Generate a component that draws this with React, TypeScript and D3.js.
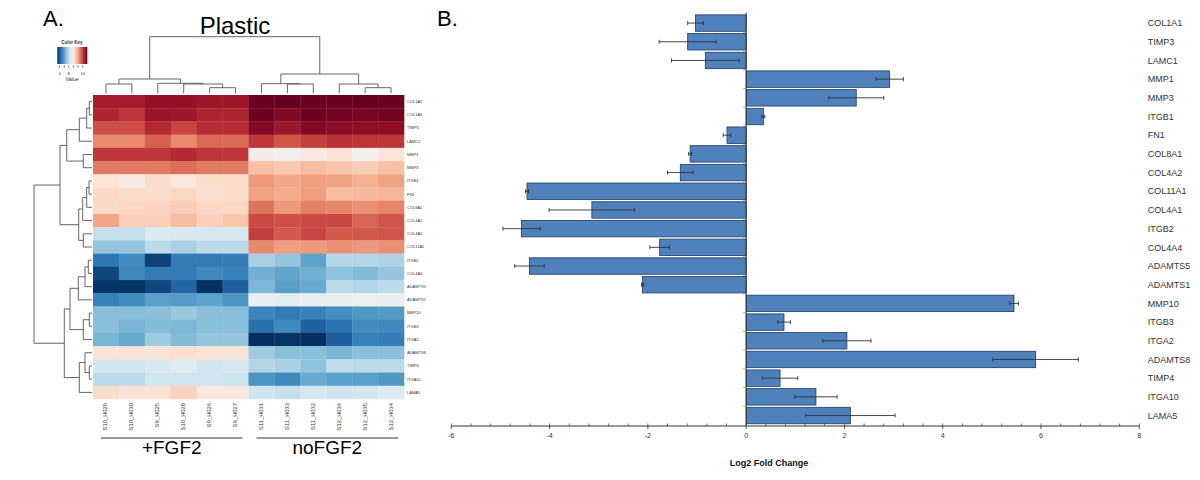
import React from "react";
import * as d3 from "d3";

// ---- panel A: heatmap ----
const heatGenes = ["COL1A2", "COL1A1", "TIMP3", "LAMC1", "MMP1", "MMP3", "ITGB1", "FN1", "COL8A1", "COL4A2", "COL4A1", "COL11A1", "ITGB2", "COL4A4", "ADAMTS5", "ADAMTS1", "MMP10", "ITGB3", "ITGA2", "ADAMTS8", "TIMP4", "ITGA10", "LAMA5"];
const samples = ["S10_H029", "S10_H030", "S9_H025", "S10_H028", "S9_H026", "S9_H027", "S11_H031", "S11_H033", "S11_H032", "S12_H036", "S12_H035", "S12_H034"];

// expression values, one row per gene, columns in sample order
const heatValues = [
  [14.8, 14.8, 15.2, 15.2, 15.0, 15.0, 15.9, 16.0, 15.9, 15.9, 16.0, 15.9],
  [14.6, 14.2, 15.1, 15.0, 14.6, 14.6, 15.9, 15.5, 15.9, 15.8, 15.7, 15.8],
  [13.7, 13.7, 14.5, 13.9, 14.4, 14.4, 15.5, 15.0, 15.5, 15.4, 15.3, 15.3],
  [12.6, 12.6, 13.4, 12.6, 13.2, 13.2, 14.2, 13.6, 14.0, 14.3, 14.2, 14.2],
  [14.2, 14.2, 14.2, 14.5, 14.2, 14.2, 9.9, 9.6, 10.1, 10.4, 9.6, 10.3],
  [12.9, 12.9, 12.9, 13.1, 12.9, 12.9, 11.4, 11.2, 11.5, 11.3, 11.1, 11.4],
  [10.3, 10.1, 10.6, 10.2, 10.6, 10.6, 12.3, 12.0, 12.2, 12.1, 11.8, 12.1],
  [10.7, 10.6, 10.6, 10.8, 10.5, 10.6, 12.1, 11.9, 12.2, 11.5, 11.6, 11.7],
  [10.7, 10.8, 10.9, 11.1, 10.8, 10.8, 13.0, 12.3, 12.8, 12.7, 12.5, 12.7],
  [12.0, 11.0, 11.0, 11.5, 11.0, 11.3, 13.8, 13.7, 13.8, 13.9, 13.3, 13.6],
  [8.0, 8.0, 8.6, 8.5, 8.5, 8.5, 14.0, 13.5, 13.9, 13.5, 13.5, 13.6],
  [7.0, 7.0, 7.8, 7.4, 7.8, 7.8, 12.6, 12.2, 12.3, 12.5, 12.3, 12.5],
  [4.8, 5.4, 3.4, 4.9, 4.9, 5.0, 7.4, 7.0, 6.0, 7.6, 7.6, 7.5],
  [3.5, 5.3, 4.9, 4.9, 5.3, 5.1, 6.4, 6.1, 6.4, 6.9, 6.7, 7.0],
  [3.1, 3.1, 3.5, 4.3, 3.0, 4.2, 6.6, 5.9, 6.2, 7.8, 7.6, 7.8],
  [5.1, 5.4, 5.9, 5.8, 6.0, 5.6, 9.1, 8.8, 9.0, 9.0, 9.3, 9.2],
  [6.8, 6.8, 6.8, 7.1, 6.8, 6.8, 5.2, 4.9, 5.1, 5.4, 5.7, 5.8],
  [6.8, 6.5, 6.7, 6.6, 6.8, 6.8, 4.6, 5.3, 4.2, 4.7, 5.4, 5.3],
  [6.5, 6.2, 7.2, 6.7, 7.0, 7.0, 3.0, 3.1, 3.0, 4.1, 5.1, 5.0],
  [10.3, 10.4, 10.4, 10.5, 10.4, 10.4, 7.2, 6.8, 6.8, 6.5, 6.8, 6.8],
  [8.4, 8.4, 8.5, 8.7, 8.4, 8.5, 7.6, 7.4, 6.9, 7.9, 7.8, 7.8],
  [7.8, 7.8, 8.3, 8.3, 8.3, 8.2, 5.6, 5.3, 6.2, 5.9, 5.9, 5.7],
  [10.6, 10.4, 10.4, 10.9, 10.2, 10.2, 8.3, 8.0, 8.5, 8.3, 8.4, 8.6],
];

// hclust-style merges: [left, right, height]; negative = leaf index (1-based)
const colMerges = [
  [-1, -2, 9.3], [-5, -6, 5.6], [-4, 2, 9.3], [-3, 3, 10.0], [1, 4, 14.3],
  [-8, -9, 9.3], [-7, 6, 9.6], [-11, -12, 5.6], [-10, 8, 9.3], [7, 9, 19.3], [5, 10, 56.6],
];
const rowMerges = [
  [-1, -2, 2.7], [1, -3, 5.3], [2, -4, 12.7], [-5, -6, 8.7], [3, 4, 25.3],
  [-7, -8, 3], [6, -9, 5.3], [7, -10, 9.3], [-11, -12, 8.7], [8, 9, 13.3], [5, 10, 32],
  [-13, -14, 3.7], [12, -15, 7], [13, -16, 13.7], [-17, -18, 2.7], [15, -19, 8.7], [14, 16, 22],
  [-21, -22, 2.7], [-20, 18, 7], [19, -23, 12.7], [17, 20, 27.7], [11, 21, 58],
];

const groups = [
  { label: "+FGF2", from: 0, to: 5 },
  { label: "noFGF2", from: 6, to: 11 },
];
const keyTicks = [4, 6, 8, 10, 12, 14];
const keyLabels = [4, 8, 14];

// ---- panel B: bar chart ----
const barGenes = ["COL1A1", "TIMP3", "LAMC1", "MMP1", "MMP3", "ITGB1", "FN1", "COL8A1", "COL4A2", "COL11A1", "COL4A1", "ITGB2", "COL4A4", "ADAMTS5", "ADAMTS1", "MMP10", "ITGB3", "ITGA2", "ADAMTS8", "TIMP4", "ITGA10", "LAMA5"];
const foldChange = [-1.03, -1.19, -0.83, 2.92, 2.24, 0.35, -0.39, -1.14, -1.34, -4.46, -3.14, -4.57, -1.76, -4.41, -2.11, 5.45, 0.77, 2.05, 5.89, 0.69, 1.42, 2.12];
const foldErr = [0.16, 0.58, 0.69, 0.28, 0.56, 0.03, 0.075, 0.03, 0.26, 0.03, 0.87, 0.38, 0.2, 0.3, 0.02, 0.09, 0.13, 0.49, 0.87, 0.36, 0.43, 0.91];
const xMajor = [-6, -4, -2, 0, 2, 4, 6, 8];

const FONT = "'Liberation Sans', Arial, sans-serif";

type Seg = [number, number, number, number];

// walk the merge list, return the elbow segments in (pos, height) space
function dendroSegments(merges: number[][], leafPos: (i: number) => number) {
  const pos: number[] = [];
  const hts: number[] = [];
  const segs: { p1: number; p2: number; h1: number; h2: number }[] = [];
  const get = (id: number) => (id < 0 ? { p: leafPos(-id - 1), h: 0 } : { p: pos[id - 1], h: hts[id - 1] });
  merges.forEach(([a, b, h]) => {
    const A = get(a), B = get(b);
    segs.push({ p1: A.p, p2: B.p, h1: h, h2: h }); // cross bar
    segs.push({ p1: A.p, p2: A.p, h1: A.h, h2: h });
    segs.push({ p1: B.p, p2: B.p, h1: B.h, h2: h });
    pos.push((A.p + B.p) / 2);
    hts.push(h);
  });
  return segs;
}

export default function App() {
  // heatmap scales
  const hx = d3.scaleBand().domain(samples).range([93, 404]);
  const hy = d3.scaleBand().domain(heatGenes).range([95, 399]);
  const color = d3.scaleSequential((t: number) => d3.interpolateRdBu(1 - t)).domain([3, 16]);

  const colH = d3.scaleLinear().domain([0, 56.6]).range([93.3, 36.7]);
  const rowH = d3.scaleLinear().domain([0, 58]).range([92, 34]);

  const colSegs = dendroSegments(colMerges, (i) => hx(samples[i])! + hx.bandwidth() / 2);
  const rowSegs = dendroSegments(rowMerges, (i) => hy(heatGenes[i])! + hy.bandwidth() / 2);

  const keyX = d3.scaleLinear().domain([3, 16]).range([57.3, 87.3]);
  const keyStops = d3.range(0, 1.0001, 0.1);

  // bar chart scales
  const bx = d3.scaleLinear().domain([-6, 8]).range([451.3, 1139.3]);
  const by = d3.scaleBand().domain(barGenes).range([12.6, 426]).padding(0.12);
  const minor = d3.range(-6, 8.001, 0.4);
  const axisY = 426;

  return (
    <svg width={1200} height={480} style={{ position: "absolute", left: 0, top: 0, background: "#fff" }} fontFamily={FONT}>
      <defs>
        <linearGradient id="keygrad" x1="0" x2="1" y1="0" y2="0">
          {keyStops.map((t) => (
            <stop key={t} offset={t} stopColor={color(3 + t * 13)} />
          ))}
        </linearGradient>
      </defs>

      {/* ---------- A ---------- */}
      <text x={43} y={26} fontSize={22}>A.</text>
      <text x={235} y={34} fontSize={24} textAnchor="middle">Plastic</text>

      {/* color key */}
      <text x={72} y={43.5} fontSize={4.5} fontWeight="bold" textAnchor="middle" fill="#333">Color Key</text>
      <rect x={keyX(3)} y={47} width={keyX(16) - keyX(3)} height={17} fill="url(#keygrad)" />
      {keyTicks.map((t) => (
        <line key={t} x1={keyX(t)} x2={keyX(t)} y1={65} y2={68} stroke="#444" strokeWidth={0.6} />
      ))}
      {keyLabels.map((t) => (
        <text key={t} x={keyX(t)} y={75} fontSize={4} textAnchor="middle" fill="#333">{t}</text>
      ))}
      <text x={72} y={81} fontSize={5.5} textAnchor="middle" fill="#333">Value</text>

      {/* heatmap cells */}
      {heatValues.map((row, r) =>
        row.map((v, c) => (
          <rect key={`${r}-${c}`} x={hx(samples[c])} y={hy(heatGenes[r])} width={hx.bandwidth() + 0.3} height={hy.bandwidth() + 0.3} fill={color(v)} />
        ))
      )}

      {/* dendrograms */}
      <g stroke="#555" strokeWidth={0.9} fill="none">
        {colSegs.map((s, i) => (
          <line key={i} x1={s.p1} x2={s.p2} y1={colH(s.h1)} y2={colH(s.h2)} />
        ))}
        {rowSegs.map((s, i) => (
          <line key={i} y1={s.p1} y2={s.p2} x1={rowH(s.h1)} x2={rowH(s.h2)} />
        ))}
      </g>

      {/* row labels */}
      {heatGenes.map((g) => (
        <text key={g} x={407} y={hy(g)! + hy.bandwidth() / 2 + 1.4} fontSize={4} fill="#333">{g}</text>
      ))}
      {/* column labels */}
      {samples.map((s) => {
        const cx = hx(s)! + hx.bandwidth() / 2 + 1.5;
        return (
          <text key={s} transform={`translate(${cx},403) rotate(-90)`} fontSize={5.8} textAnchor="end" fill="#333">{s}</text>
        );
      })}

      {/* group bars */}
      {groups.map((g) => {
        const x1 = hx(samples[g.from])! + 8;
        const x2 = hx(samples[g.to])! + hx.bandwidth() - 6;
        return (
          <g key={g.label}>
            <line x1={x1} x2={x2} y1={438} y2={438} stroke="#333" strokeWidth={1} />
            <text x={(x1 + x2) / 2} y={454} fontSize={19} textAnchor="middle">{g.label}</text>
          </g>
        );
      })}

      {/* ---------- B ---------- */}
      <text x={437} y={26} fontSize={22}>B.</text>

      {/* bars */}
      {barGenes.map((g, i) => {
        const v = foldChange[i];
        const y0 = by(g)!;
        const x0 = Math.min(bx(0), bx(v));
        const w = Math.abs(bx(v) - bx(0));
        const cy = y0 + by.bandwidth() / 2;
        const e1 = bx(v - foldErr[i]);
        const e2 = bx(v + foldErr[i]);
        return (
          <g key={g}>
            <rect x={x0} y={y0} width={w} height={by.bandwidth()} fill="#4f81bd" stroke="#1f3a60" strokeWidth={0.8} />
            <g stroke="#333" strokeWidth={0.9}>
              <line x1={e1} x2={e2} y1={cy} y2={cy} />
              <line x1={e1} x2={e1} y1={cy - 2} y2={cy + 2} />
              <line x1={e2} x2={e2} y1={cy - 2} y2={cy + 2} />
            </g>
            <text x={1147.7} y={cy + 3.2} fontSize={9} fill="#333">{g}</text>
          </g>
        );
      })}

      {/* y axis at zero */}
      <line x1={bx(0)} x2={bx(0)} y1={12.6} y2={axisY} stroke="#333" strokeWidth={1} />
      {barGenes.map((g, i) =>
        i === 0 ? null : (
          <line key={g} x1={bx(0) - 3} x2={bx(0)} y1={by(g)! - (by.step() - by.bandwidth()) / 2} y2={by(g)! - (by.step() - by.bandwidth()) / 2} stroke="#888" strokeWidth={0.8} />
        )
      )}

      {/* x axis */}
      <line x1={bx(-6)} x2={bx(8)} y1={axisY} y2={axisY} stroke="#333" strokeWidth={1} />
      {minor.map((t, i) => (
        <line key={i} x1={bx(t)} x2={bx(t)} y1={axisY - 2.5} y2={axisY} stroke="#333" strokeWidth={0.7} />
      ))}
      {xMajor.map((t) => (
        <g key={t}>
          <line x1={bx(t)} x2={bx(t)} y1={axisY} y2={axisY + 3} stroke="#333" strokeWidth={0.8} />
          <text x={bx(t)} y={axisY + 12} fontSize={7} textAnchor="middle" fill="#333">{t}</text>
        </g>
      ))}
      <text x={769} y={466} fontSize={9} fontWeight="bold" textAnchor="middle" fill="#111">Log2 Fold Change</text>
    </svg>
  );
}
